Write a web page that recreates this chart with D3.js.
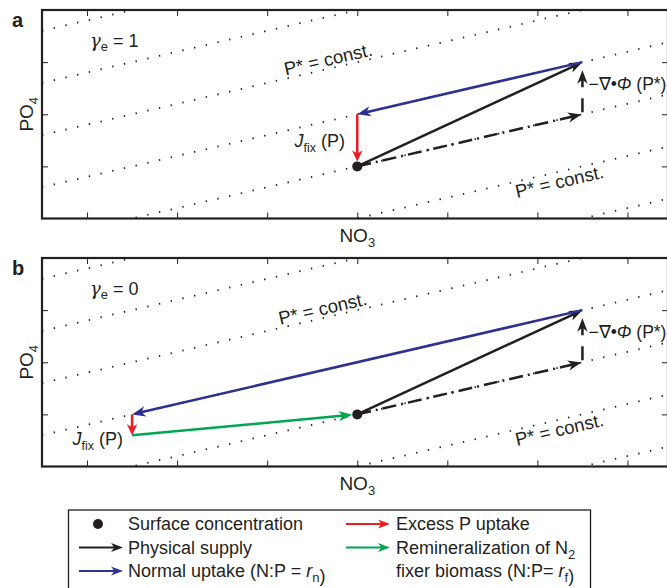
<!DOCTYPE html>
<html>
<head>
<meta charset="utf-8">
<script src="https://cdn.jsdelivr.net/npm/d3@7"></script>
<style>
body { margin: 0; background: #fff; }
text { font-family: "Liberation Sans", Arial, Helvetica, sans-serif; fill: #231f20; }
</style>
</head>
<body>
<svg id="chart" width="667" height="588"></svg>
<script>
// values in plot units (NO3 along x, PO4 along y)
var panelNames = ["a", "b"]
var gammaValues = [1, 0]
var xTicks = [1, 2, 3, 4, 5, 6, 7]
var yTicks = [1, 2, 3]
var surfacePoint = [4, 1]
var supplyEnd = [6.5, 3]       // physical supply
var advectionEnd = [6.5, 2]    // dash-dot part
var isoSlope = 0.4             // slope of the P* = const. lines
var isoLevels = [-1, 0, 1, 2, 3, 4, 5]
var uptakeEnd = [[4, 2], [1.5, 1]]      // normal uptake ends, panel a / b
var excessEnd = [[4, 1], [1.5, 0.6]]    // excess P uptake ends
var remin = [null, [[1.5, 0.6], [4, 1]]] // N2 fixer remineralization (panel b only)

var C = { black: "#231f20", blue: "#2e3192", red: "#ed1c24", green: "#00a651" }

var dims = { left: 42, width: 626, height: 208.5, tops: [10, 258] }

var svg = d3.select("#chart")

var x = d3.scaleLinear().domain([0.5, 7.45]).range([0, dims.width])
var y = d3.scaleLinear().domain([0, 4]).range([dims.height, 0])

function arrowHead(g, x1, y1, x2, y2, color, L, W) {
    var a = Math.atan2(y2 - y1, x2 - x1) * 180 / Math.PI
    g.append("path")
        .attr("d", "M0,0L" + (-L) + "," + (-W) + "L" + (-L * 0.72) + ",0L" + (-L) + "," + W + "Z")
        .attr("transform", "translate(" + x2 + "," + y2 + ") rotate(" + a + ")")
        .attr("fill", color)
}

// arrow between two pixel points, optional trim at start / end
function arrow(g, p0, p1, color, o) {
    o = o || {}
    var dx = p1[0] - p0[0], dy = p1[1] - p0[1]
    var len = Math.sqrt(dx * dx + dy * dy), ux = dx / len, uy = dy / len
    var s0 = o.trim0 || 0, s1 = o.trim1 || 0
    var L = o.L || 13.5, W = o.W || 5.2
    var ax = p0[0] + ux * s0, ay = p0[1] + uy * s0
    var bx = p1[0] - ux * s1, by = p1[1] - uy * s1
    var line = g.append("line")
        .attr("x1", ax).attr("y1", ay)
        .attr("x2", bx - ux * L * 0.6).attr("y2", by - uy * L * 0.6)
        .attr("stroke", color)
        .attr("stroke-width", o.sw || 2.5)
    if (o.dash) line.attr("stroke-dasharray", o.dash)
    arrowHead(g, ax, ay, bx, by, color, L, W)
}

function pt(d) { return [x(d[0]), y(d[1])] }

var isoAngle = Math.atan2(y(isoSlope) - y(0), x(1) - x(0)) * 180 / Math.PI

// label placement (layout only)
var pLabelPos = [
    [{ at: 3.7, level: 3, dy: -3 }, { at: 6.22, level: 0, dy: 16 }],
    [{ at: 3.64, level: 3, dy: -3 }, { at: 6.22, level: 0, dy: 16 }]
]
var jfixPos = [[303, 137], [81, 187]]

panelNames.forEach(function (name, i) {
    var g = svg.append("g")
        .attr("transform", "translate(" + dims.left + "," + dims.tops[i] + ")")

    g.append("clipPath").attr("id", "clip" + i)
        .append("rect").attr("width", dims.width).attr("height", dims.height)

    // P* = const. lines
    var iso = g.append("g").attr("clip-path", "url(#clip" + i + ")")
    iso.selectAll("line")
        .data(isoLevels)
        .enter()
        .append("line")
        .attr("x1", x(0.5))
        .attr("y1", d => y(d + isoSlope * (0.5 - surfacePoint[0])))
        .attr("x2", x(7.45))
        .attr("y2", d => y(d + isoSlope * (7.45 - surfacePoint[0])))
        .attr("stroke", C.black)
        .attr("stroke-width", 1.8)
        .attr("stroke-dasharray", "1.4,10.6")

    // ticks on four sides, pointing in
    function noLabels(a) { return a.tickFormat("").tickSize(-6) }
    g.append("g").attr("transform", "translate(0," + dims.height + ")")
        .call(noLabels(d3.axisBottom(x).tickValues(xTicks)))
    g.append("g").call(noLabels(d3.axisTop(x).tickValues(xTicks)))
    g.append("g").call(noLabels(d3.axisLeft(y).tickValues(yTicks)))
    g.append("g").attr("transform", "translate(" + dims.width + ",0)")
        .call(noLabels(d3.axisRight(y).tickValues(yTicks)))
    g.selectAll(".domain").remove()
    g.selectAll(".tick line").attr("stroke", C.black).attr("stroke-width", 1)

    g.append("rect")
        .attr("width", dims.width).attr("height", dims.height)
        .attr("fill", "none").attr("stroke", C.black).attr("stroke-width", 2.2)

    // P* = const. labels
    pLabelPos[i].forEach(function (p) {
        var px = x(p.at), py = y(p.level + isoSlope * (p.at - surfacePoint[0]))
        g.append("text")
            .attr("transform", "translate(" + px + "," + py + ") rotate(" + isoAngle + ")")
            .attr("dy", p.dy)
            .attr("text-anchor", "middle")
            .attr("font-size", 18.5)
            .text("P* = const.")
    })

    // arrows
    var s = pt(surfacePoint), sup = pt(supplyEnd), adv = pt(advectionEnd)
    arrow(g, s, adv, C.black, { dash: "14,5,2,5", trim1: 1 })
    arrow(g, adv, sup, C.black, { dash: "14,11,200", trim0: 2, trim1: 8 })
    arrow(g, s, sup, C.black, {})
    arrow(g, sup, pt(uptakeEnd[i]), C.blue, {})
    if (remin[i]) arrow(g, pt(remin[i][0]), pt(remin[i][1]), C.green, { trim1: 5 })
    arrow(g, pt(uptakeEnd[i]), pt(excessEnd[i]), C.red, { trim1: i == 0 ? 5 : 0, L: 11 })

    g.append("circle").attr("cx", s[0]).attr("cy", s[1]).attr("r", 5).attr("fill", C.black)

    // texts
    svg.append("text").attr("x", 12).attr("y", dims.tops[i] + 17)
        .attr("font-size", 20).attr("font-weight", "bold").text(name)

    var gt = g.append("text").attr("x", 48).attr("y", 37).attr("font-size", 18)
    gt.append("tspan").attr("font-style", "italic").attr("font-family", "DejaVu Serif").text("γ")
    gt.append("tspan").attr("font-size", 13).attr("dy", 4).text("e")
    gt.append("tspan").attr("dy", -4).text(" = " + gammaValues[i])

    var jt = g.append("text").attr("x", jfixPos[i][0]).attr("y", jfixPos[i][1])
        .attr("text-anchor", "end").attr("font-size", 18)
    jt.append("tspan").attr("font-style", "italic").text("J")
    jt.append("tspan").attr("font-size", 12.5).attr("dy", 5).text("fix")
    jt.append("tspan").attr("dy", -5).text(" (P)")

    var nt = g.append("text").attr("x", x(supplyEnd[0]) + 6).attr("y", 80).attr("font-size", 17.5)
    nt.append("tspan").text("\u2212\u2207\u2022")
    nt.append("tspan").attr("font-style", "italic").text("\u03a6")
    nt.append("tspan").text(" (P*)")

    var xl = svg.append("text").attr("x", dims.left + x(4)).attr("y", dims.tops[i] + dims.height + 23)
        .attr("text-anchor", "middle").attr("font-size", 19)
    xl.append("tspan").text("NO")
    xl.append("tspan").attr("font-size", 13).attr("dy", 5).text("3")

    var yl = svg.append("text")
        .attr("transform", "translate(33," + (dims.tops[i] + dims.height / 2) + ") rotate(-90)")
        .attr("text-anchor", "middle").attr("font-size", 19)
    yl.append("tspan").text("PO")
    yl.append("tspan").attr("font-size", 13).attr("dy", 5).text("4")
})

// legend
var legendLeft = [
    { kind: "dot", color: C.black, label: ["Surface concentration"] },
    { kind: "arrow", color: C.black, label: ["Physical supply"] },
    { kind: "arrow", color: C.blue, label: ["Normal uptake (N:P = ", ["r", "n"], ")"] }
]
var legendRight = [
    { kind: "arrow", color: C.red, label: ["Excess P uptake"] },
    { kind: "arrow", color: C.green, label: ["Remineralization of N", [null, "2"]] },
    { kind: "none", color: C.green, label: ["fixer biomass (N:P= ", ["r", "f"], ")"] }
]

var lg = svg.append("g")
lg.append("rect").attr("x", 68.5).attr("y", 510).attr("width", 522).attr("height", 100)
    .attr("fill", "#fff").attr("stroke", C.black).attr("stroke-width", 1.3)

function legendColumn(items, x0, x1, tx) {
    items.forEach(function (d, k) {
        var yy = 524 + k * 23.5
        if (d.kind == "dot") lg.append("circle").attr("cx", (x0 + x1) / 2 - 3).attr("cy", yy).attr("r", 5).attr("fill", d.color)
        if (d.kind == "arrow") arrow(lg, [x0, yy], [x1, yy], d.color, { sw: 2, L: 12, W: 4.5 })
        var t = lg.append("text").attr("x", tx).attr("y", yy + 6).attr("font-size", 18)
        d.label.forEach(function (part) {
            if (typeof part == "string") t.append("tspan").text(part)
            else {
                if (part[0]) t.append("tspan").attr("font-style", "italic").text(part[0])
                t.append("tspan").attr("font-size", 13).attr("dy", 5).text(part[1])
                t.append("tspan").attr("dy", -5).text("")
            }
        })
    })
}
legendColumn(legendLeft, 79, 123, 128)
legendColumn(legendRight, 346, 390, 396)
</script>
</body>
</html>
